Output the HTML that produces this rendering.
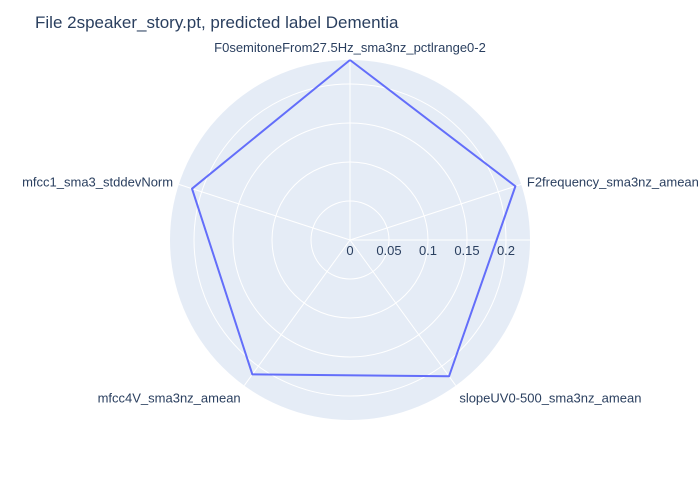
<!DOCTYPE html>
<html><head><meta charset="utf-8"><style>
body{margin:0;background:#fff;}
svg{display:block;font-family:"Liberation Sans",Arial,sans-serif;}
</style></head><body>
<svg id="chart" width="700" height="500">
<text x="35" y="28" font-size="17" fill="#2a3f5f">File 2speaker_story.pt, predicted label Dementia</text>
<g id="plot"></g>
</svg>
<script>
const categories=["F0semitoneFrom27.5Hz_sma3nz_pctlrange0-2","mfcc1_sma3_stddevNorm","mfcc4V_sma3nz_amean","slopeUV0-500_sma3nz_amean","F2frequency_sma3nz_amean"];
const values=[0.2308,0.213,0.213,0.216,0.223];
const tickValues=[0,0.05,0.1,0.15,0.2];
const tickLabels=["0","0.05","0.1","0.15","0.2"];
const rMax=0.2308;

const NS="http://www.w3.org/2000/svg";
const g=document.getElementById('plot');
const cx=350,cy=240,R=180;
function rScale(v){return v/rMax*R;}
function ang(i){return (90+i*360/categories.length)*Math.PI/180;}
function pt(i,v){const r=rScale(v),a=ang(i);return [cx+r*Math.cos(a),cy-r*Math.sin(a)];}
function mk(t,attrs){const e=document.createElementNS(NS,t);for(const k in attrs)e.setAttribute(k,attrs[k]);g.appendChild(e);return e;}

const bg=mk('circle',{cx:cx,cy:cy,r:R,fill:'#e5ecf6'});


tickValues.forEach((v,i)=>{
  if(v>0){
    const c=mk('circle',{cx:cx,cy:cy,r:rScale(v),fill:'none',stroke:'#fff','stroke-width':1});
    
    
  }
});
categories.forEach((c,i)=>{
  const [x,y]=pt(i,rMax);
  const l=mk('line',{x1:cx,y1:cy,x2:x,y2:y,stroke:'#fff','stroke-width':1});
  
  
});
const ax=mk('line',{x1:cx,y1:cy,x2:cx+R,y2:cy,stroke:'#fff','stroke-width':1});


tickValues.forEach((v,i)=>{
  const t=mk('text',{x:cx+rScale(v),y:cy+15,'font-size':13,fill:'#2a3f5f','text-anchor':'middle'});
  t.textContent=tickLabels[i];
  
  
});
categories.forEach((c,i)=>{
  const a=ang(i),r=R+6;
  const x=cx+r*Math.cos(a),y=cy-r*Math.sin(a);
  const cs=Math.cos(a);
  const anchor=Math.abs(cs)<0.1?'middle':(cs>0?'start':'end');
  const sn=Math.sin(a);
  const dy=sn>0.9?-2:(sn<-0.5?12:4);
  const t=mk('text',{x:x,y:y+dy,'font-size':13,fill:'#2a3f5f','text-anchor':anchor});
  t.textContent=c;
  
  
});
const pts=values.map((v,i)=>pt(i,v));
pts.push(pts[0]);
const p=mk('polyline',{points:pts.map(q=>q.join(',')).join(' '),fill:'none',stroke:'#636efa','stroke-width':2,'stroke-linejoin':'round'});


</script>
</body></html>
